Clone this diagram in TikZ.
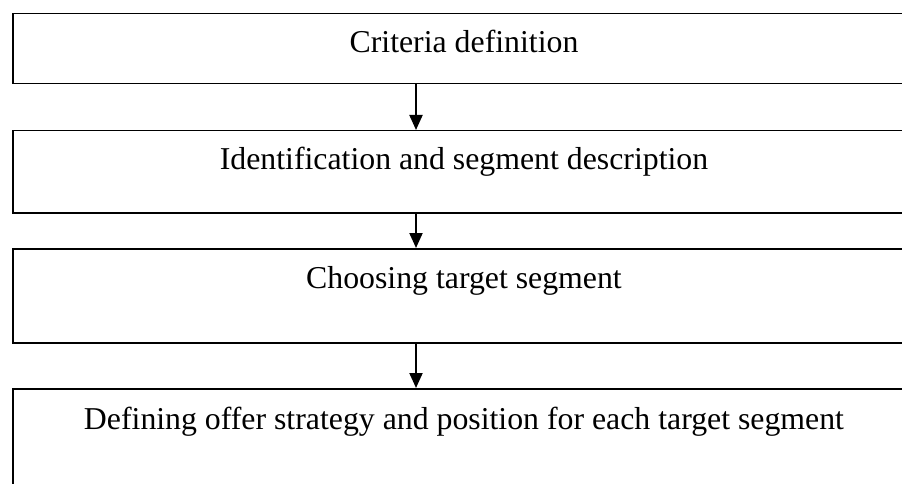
\documentclass[tikz,border=0pt]{standalone}
\usepackage{fontspec}
\setmainfont{Liberation Serif}
\usetikzlibrary{arrows.meta,
    positioning}

\tikzset{stagebox/.style={draw, line width=1.5pt, minimum width=1000pt,
        anchor=north west, inner sep=0pt},
    stagetext/.style={anchor=base, font=\fontsize{31.8}{38}\selectfont},
    flow/.style={-{Triangle[width=13pt,length=15pt]}, line width=2pt}}

\begin{document}
\begin{tikzpicture}[x=1pt,y=-1pt]
                  \useasboundingbox (0,0) rectangle (902,484);
                  \clip (0,0) rectangle (902,484);
                  % the four stages
                  \node[stagebox, minimum height=70pt] (crit) at (12,13) {};
                  \node[stagebox, minimum height=82pt] (ident) at (12,130) {};
                  \node[stagebox, minimum height=94pt] (choose) at (12,248) {};
                  \node[stagebox, minimum height=140pt] (offer) at (12,388) {};
                  \node[stagetext] (critT) at (464,53) {Criteria definition};
                  \node[stagetext] (identT) at (464,169) {Identification and segment description};
                  \node[stagetext] (chooseT) at (464,288) {Choosing target segment};
                  \node[stagetext] (offerT) at (464,429) {Defining offer strategy and position for each target segment};
                  % arrows between them
                  \coordinate (axis) at (416,0);
                  \draw[flow] (crit.south -| axis) -- (ident.north -| axis);
                  \draw[flow] (ident.south -| axis) -- (choose.north -| axis);
                  \draw[flow] (choose.south -| axis) -- (offer.north -| axis);
              \end{tikzpicture}
\end{document}
